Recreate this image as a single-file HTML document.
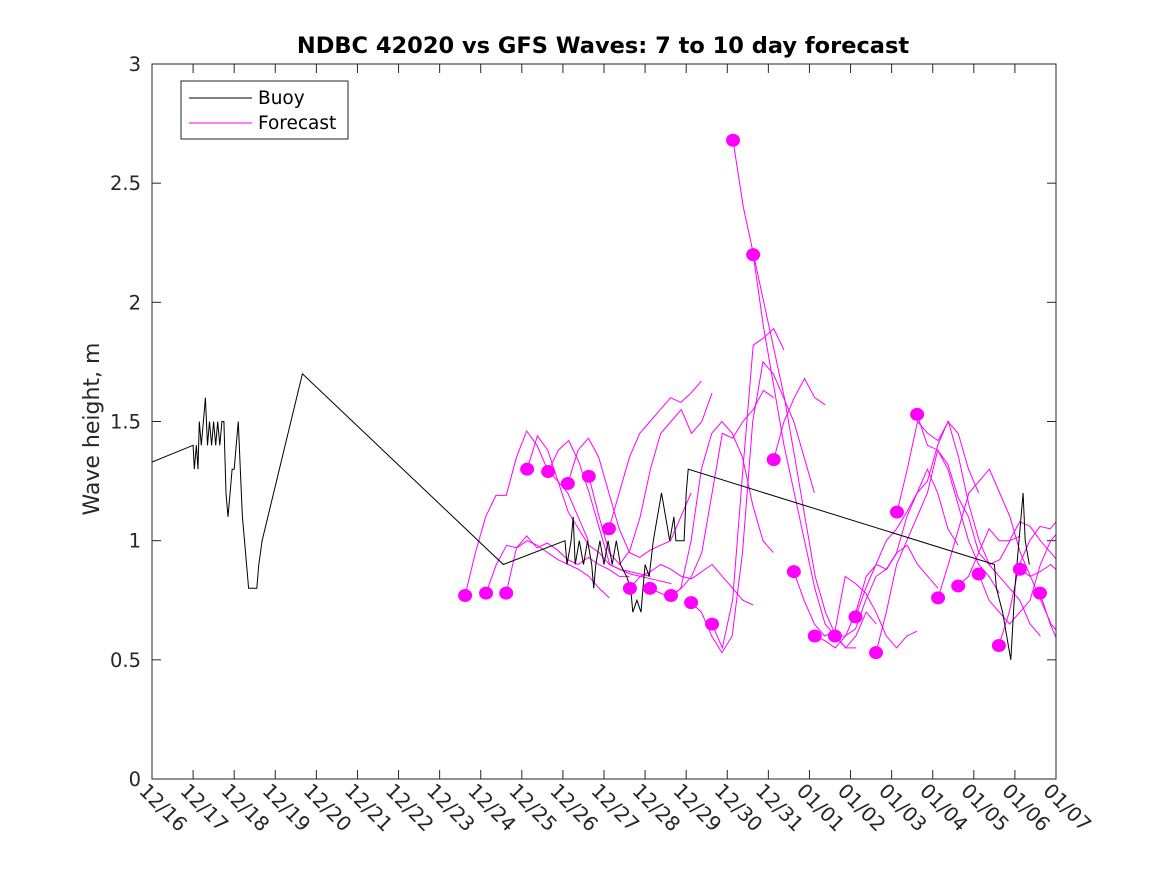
<!DOCTYPE html>
<html><head><meta charset="utf-8"><style>
html,body{margin:0;padding:0;background:#fff;}
svg{display:block;font-family:"DejaVu Sans","Liberation Sans",sans-serif;}
</style></head><body>
<svg id="chart" width="1167" height="875" viewBox="0 0 1167 875">
<defs><clipPath id="plotclip"><rect x="152" y="64" width="904" height="715"/></clipPath></defs>
<rect x="0" y="0" width="1167" height="875" fill="#fff"/>
<text x="603" y="53" text-anchor="middle" font-size="22.5" font-weight="bold" fill="#000">NDBC 42020 vs GFS Waves: 7 to 10 day forecast</text>
<text transform="translate(99,429) rotate(-90)" text-anchor="middle" font-size="22" fill="#262626">Wave height, m</text>
<g id="axes"></g>
<g id="series" clip-path="url(#plotclip)"></g>
<rect x="152" y="64" width="904" height="715" fill="none" stroke="#262626" stroke-width="1"/>
<g>
<rect x="181" y="81" width="167" height="58" fill="#fff" stroke="#262626" stroke-width="1"/>
<line x1="189" y1="98" x2="252" y2="98" stroke="#000"/>
<text x="258" y="104" font-size="18.5" fill="#000">Buoy</text>
<line x1="189" y1="123" x2="252" y2="123" stroke="#ff00ff"/>
<text x="258" y="129" font-size="18.5" fill="#000">Forecast</text>
</g>
</svg>
<script>
const xTickLabels=["12/16","12/17","12/18","12/19","12/20","12/21","12/22","12/23","12/24","12/25","12/26","12/27","12/28","12/29","12/30","12/31","01/01","01/02","01/03","01/04","01/05","01/06","01/07"];
const yTickValues=[0,0.5,1,1.5,2,2.5,3];
const yTickLabels=["0","0.5","1","1.5","2","2.5","3"];
const buoyDays=[0,1,1.03,1.08,1.12,1.15,1.2,1.25,1.3,1.35,1.4,1.45,1.5,1.55,1.6,1.65,1.7,1.75,1.8,1.85,1.9,1.95,2.0,2.05,2.1,2.15,2.2,2.25,2.35,2.55,2.6,2.68,3.66,8.55,10.05,10.1,10.2,10.25,10.3,10.4,10.5,10.6,10.7,10.75,10.8,10.9,11,11.1,11.2,11.3,11.4,11.55,11.65,11.7,11.8,11.9,11.95,12.0,12.1,12.2,12.3,12.4,12.5,12.6,12.7,12.75,12.95,13.0,13.05,20.5,20.55,20.7,20.8,20.9,21.0,21.1,21.2,21.25,21.35];
const buoyValues=[1.33,1.40,1.3,1.4,1.3,1.5,1.4,1.5,1.6,1.4,1.5,1.4,1.5,1.4,1.5,1.4,1.5,1.5,1.2,1.1,1.2,1.3,1.3,1.4,1.5,1.3,1.1,1.0,0.8,0.8,0.9,1.0,1.7,0.9,1.0,0.9,1.0,1.1,0.9,1.0,0.9,1.0,0.9,0.8,0.9,1.0,0.9,1.0,0.9,1.0,0.9,0.85,0.8,0.7,0.75,0.7,0.8,0.9,0.85,1.0,1.1,1.2,1.1,1.0,1.1,1.0,1.0,1.2,1.3,0.9,0.8,0.7,0.6,0.5,0.8,1.0,1.2,1.0,0.9];
const forecastStartDays=[7.62,8.13,8.62,9.13,9.64,10.12,10.63,11.12,11.63,12.12,12.63,13.12,13.63,14.14,14.63,15.13,15.62,16.13,16.62,17.12,17.62,18.13,18.62,19.13,19.62,20.12,20.61,21.12,21.61];
const forecastStartValues=[0.77,0.78,0.78,1.30,1.29,1.24,1.27,1.05,0.80,0.80,0.77,0.74,0.65,2.68,2.20,1.34,0.87,0.60,0.60,0.68,0.53,1.12,1.53,0.76,0.81,0.86,0.56,0.88,0.78];
const forecastStepDays=0.25;
const forecastTraces=[
[.77,.95,1.1,1.19,1.19,1.35,1.46,1.4,1.3,1.25,1.2,1.1,1.0],
[.78,.9,.98,.97,1.0,.98,.95,.92,.9,.88,.85,.8,.76],
[.78,.97,1.02,.97,.99,.96,.92,.9,.93,.9,.88,.85,.85],
[1.30,1.44,1.38,1.25,1.12,1.05,.98,.95,.9,.88,.87,.86,.85],
[1.29,1.38,1.42,1.33,1.2,1.05,.9,.88,.86,.85,.84,.83,.82],
[1.24,1.38,1.43,1.35,1.2,1.05,.95,.93,.96,.98,1.0,1.1,1.2],
[1.27,1.1,.95,.9,.96,1.1,1.3,1.45,1.5,1.55,1.45,1.5,1.62],
[1.05,1.2,1.35,1.45,1.5,1.55,1.6,1.58,1.62,1.67],
[.80,.85,.87,.9,.88,.85,.84,.87,.9,.85,.8,.75,.73],
[.80,.78,.76,.8,1.0,1.3,1.45,1.5,1.45,1.35,1.15,1.0,.95],
[.77,.8,.85,.95,1.2,1.45,1.43,1.5,1.55,1.63,1.6],
[.74,.7,.6,.53,.6,.95,1.5,1.75,1.7,1.6,1.5,1.35,1.2],
[.65,.55,.75,1.3,1.82,1.85,1.89,1.8],
[2.68,2.4,2.2,2.0,1.8,1.6,1.35,1.1,.85,.7,.6,.55,.55],
[2.20,1.9,1.65,1.4,1.2,1.0,.8,.65,.6,.55,.6,.7,.65],
[1.34,1.5,1.6,1.68,1.6,1.57],
[.87,.75,.65,.6,.62,.85,.82,.78,.7,.6,.55,.6,.62],
[.60,.58,.55,.6,.7,.85,.9,.88,.95,.98,.9,.85,.8],
[.60,.6,.63,.75,.85,.88,.95,1.1,1.2,1.3,1.2,1.05,.98],
[.68,.8,.9,1.0,1.05,1.12,1.2,1.25,1.4,1.5,1.45,1.3,1.2],
[.53,.7,.9,1.0,1.1,1.2,1.38,1.3,1.15,1.0,.9,.85,.78],
[1.12,1.3,1.5,1.45,1.42,1.5,1.35,1.15,1.0,.9,.92,1.0,1.02],
[1.53,1.4,1.38,1.32,1.18,1.1,.95,.9,.85,.8,.75,.65,.6],
[.76,.9,1.05,1.2,1.25,1.3,1.2,1.1,.95,.85,.75,.65,.6],
[.81,.85,.95,1.05,1.0,1.0,1.08,1.06,1.0,.95,.9,.85,.8],
[.86,.75,.7,.65,.7,.75,.9,1.0,1.05,1.1,1.2,1.1,1.0],
[.56,.7,.9,1.0,1.06,1.05,1.1,1.15,1.2,1.1,1.05,1.05,1.1],
[.88,.85,.87,.9,.86,.85,.88,.86,.85],
[.78,.65,.55,.5,.5,.95,1.0]
];

const NS="http://www.w3.org/2000/svg";
const X0=152,X1=1056,Y0=779,Y1=64,DAYS=22,YMAX=3;
function xScale(d){return X0+d*(X1-X0)/DAYS;}
function yScale(v){return Y0-v*(Y0-Y1)/YMAX;}
function mk(tag,attrs,parent){const e=document.createElementNS(NS,tag);for(const k in attrs)e.setAttribute(k,attrs[k]);parent.appendChild(e);return e;}

const axes=document.getElementById('axes');
const series=document.getElementById('series');
xTickLabels.forEach((lab,i)=>{
  const x=xScale(i);
  const t1=mk('line',{x1:x,y1:Y0,x2:x,y2:Y0-9,stroke:'#262626'},axes);
  
  
  const t2=mk('line',{x1:x,y1:Y1,x2:x,y2:Y1+9,stroke:'#262626'},axes);
  
  
  const tx=mk('text',{transform:`translate(${x-14},${Y0+13}) rotate(45)`,'font-size':'20',fill:'#262626'},axes);
  tx.textContent=lab;
  
  
});
yTickValues.forEach((v,i)=>{
  const y=yScale(v);
  const t1=mk('line',{x1:X0,y1:y,x2:X0+9,y2:y,stroke:'#262626'},axes);
  
  
  const t2=mk('line',{x1:X1,y1:y,x2:X1-9,y2:y,stroke:'#262626'},axes);
  
  
  const tx=mk('text',{x:X0-11,y:y+7,'text-anchor':'end','font-size':'19.5',fill:'#262626'},axes);
  tx.textContent=yTickLabels[i];
  
  
});

forecastTraces.forEach((tr,i)=>{
  const pts=tr.map((v,j)=>xScale(forecastStartDays[i]+j*forecastStepDays).toFixed(1)+','+yScale(v).toFixed(1)).join(' ');
  const pl=mk('polyline',{points:pts,fill:'none',stroke:'#ff00ff','stroke-width':'1'},series);
  
  
});
const bpts=buoyDays.map((d,i)=>xScale(d).toFixed(1)+','+yScale(buoyValues[i]).toFixed(1)).join(' ');
const bl=mk('polyline',{points:bpts,fill:'none',stroke:'#000','stroke-width':'1'},series);


forecastStartDays.forEach((d,i)=>{
  const c=mk('ellipse',{cx:xScale(d),cy:yScale(forecastStartValues[i]),rx:7,ry:6.5,fill:'#ff00ff'},series);
  
  
});
</script>
</body></html>
